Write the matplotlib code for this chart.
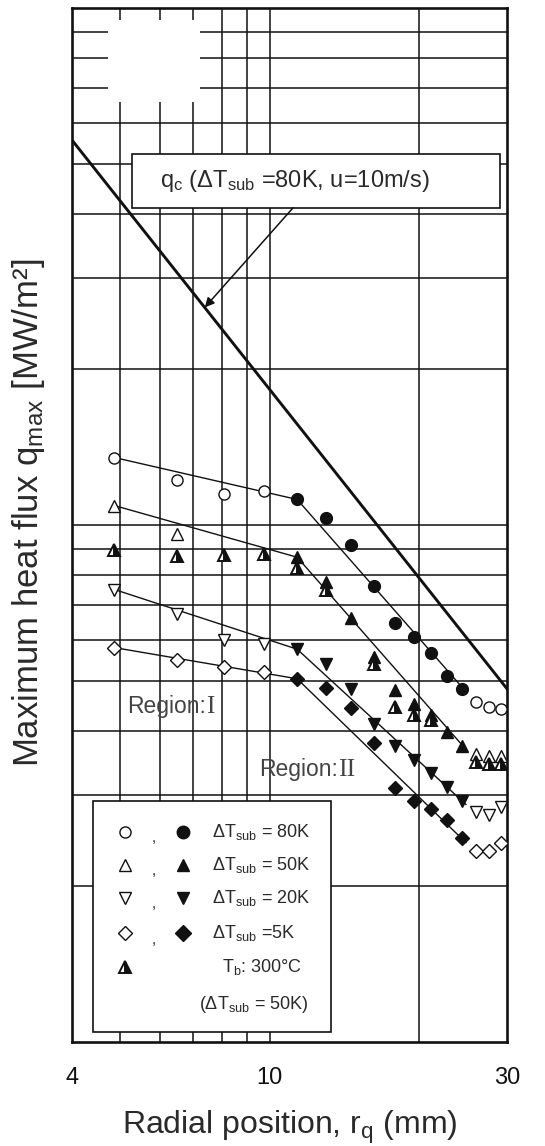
import matplotlib
matplotlib.use("Agg")
import matplotlib.pyplot as plt
from matplotlib.patches import Rectangle
from matplotlib.lines import Line2D

plt.rcParams["font.family"] = ["Liberation Sans", "DejaVu Sans"]
plt.rcParams["mathtext.fontset"] = "custom"
plt.rcParams["mathtext.rm"] = "Liberation Sans"
plt.rcParams["mathtext.it"] = "Liberation Sans:italic"
plt.rcParams["mathtext.bf"] = "Liberation Sans:bold"

# ---- data (r in mm, q in MW/m2) ----
qc_r = [4.0, 30.0]
qc_q = [55.5, 4.82]

r80_open = [4.87, 6.5, 8.1, 9.75, 26.0, 27.6, 29.2]
q80_open = [13.5, 12.2, 11.5, 11.65, 4.54, 4.44, 4.41]
r80_fill = [11.35, 12.95, 14.55, 16.2, 17.85, 19.5, 21.1, 22.75, 24.4]
q80_fill = [11.2, 10.3, 9.14, 7.61, 6.46, 6.07, 5.66, 5.10, 4.81]

r50_open = [4.87, 6.5, 26.0, 27.6, 29.2]
q50_open = [10.9, 9.6, 3.61, 3.58, 3.58]
r50_fill = [11.35, 12.95, 14.55, 16.2, 17.85, 19.5, 21.1, 22.75, 24.4]
q50_fill = [8.66, 7.75, 6.6, 5.56, 4.80, 4.50, 4.28, 3.98, 3.73]

r_tb = [4.87, 6.5, 8.1, 9.75, 11.35, 12.95, 16.2, 17.85, 19.5, 21.1, 26.0, 27.6, 29.2]
q_tb = [8.93, 8.70, 8.73, 8.77, 8.26, 7.50, 5.38, 4.44, 4.28, 4.19, 3.48, 3.45, 3.45]

r20_open = [4.87, 6.5, 8.1, 9.75, 26.0, 27.6, 29.2]
q20_open = [7.5, 6.72, 5.99, 5.88, 2.79, 2.75, 2.85]
r20_fill = [11.35, 12.95, 14.55, 16.2, 17.85, 19.5, 21.1, 22.75, 24.4]
q20_fill = [5.75, 5.38, 4.82, 4.12, 3.73, 3.51, 3.31, 3.11, 2.92]

r5_open = [4.87, 6.5, 8.1, 9.75, 26.0, 27.6, 29.2]
q5_open = [5.79, 5.48, 5.30, 5.19, 2.34, 2.34, 2.43]
r5_fill = [11.35, 12.95, 14.55, 16.2, 17.85, 19.5, 21.1, 22.75, 24.4]
q5_fill = [5.04, 4.84, 4.43, 3.78, 3.10, 2.92, 2.82, 2.69, 2.48]

# fitted lines: region I and region II for each subcooling
fit_r1 = [4.87, 11.35]
fit_r2 = [11.35, 24.8]
fit80_1 = [13.5, 11.2]
fit80_2 = [11.2, 4.76]
fit50_1 = [10.9, 8.66]
fit50_2 = [8.66, 3.68]
fit20_1 = [7.5, 5.75]
fit20_2 = [5.75, 2.88]
fit5_1 = [5.79, 5.04]
fit5_2 = [5.04, 2.43]

x_ticks = [4, 10, 30]
x_ticklabels = ["4", "10", "30"]
x_grid = [5, 6, 7, 8, 9, 10, 20]
y_grid = [2, 3, 4, 5, 6, 7, 8, 9, 10, 20, 30, 40, 50, 60, 70, 80, 90]

legend_rows = [
    ("o", r"ΔT$_{\mathrm{sub}}$ = 80K"),
    ("^", r"ΔT$_{\mathrm{sub}}$ = 50K"),
    ("v", r"ΔT$_{\mathrm{sub}}$ = 20K"),
    ("D", r"ΔT$_{\mathrm{sub}}$ =5K"),
]

INK = "#111111"
TXT = "#2a2a2a"

fig = plt.figure(figsize=(5.45, 11.46), dpi=100)
ax = fig.add_axes([0.1321, 0.0908, 0.7982, 0.9023])
ax.set_xscale("log")
ax.set_yscale("log")
ax.set_xlim(4, 30)
ax.set_ylim(1, 100)

ax.set_xticks(x_ticks)
ax.set_xticklabels(x_ticklabels)
ax.set_xticks([], minor=True)
ax.set_yticks([])
ax.set_yticks([], minor=True)
ax.tick_params(which="both", length=0, labelsize=17, pad=18, colors=INK)

for xv in x_grid:
    ax.axvline(xv, color=INK, lw=1.1, zorder=0.5)
for yv in y_grid:
    ax.axhline(yv, color=INK, lw=1.1, zorder=0.5)
for s in ax.spines.values():
    s.set_linewidth(1.9)
    s.set_color(INK)

# blanked patch in the upper left corner of the original
ax.add_patch(Rectangle((0.083, 0.909), 0.211, 0.079, transform=ax.transAxes,
                       facecolor="white", edgecolor="none", zorder=1))

# critical heat flux correlation
ax.plot(qc_r, qc_q, color=INK, lw=2.1, zorder=3)

# fitted lines
for f1, f2 in [(fit80_1, fit80_2), (fit50_1, fit50_2), (fit20_1, fit20_2), (fit5_1, fit5_2)]:
    ax.plot(fit_r1, f1, color=INK, lw=1.0, zorder=3)
    ax.plot(fit_r2, f2, color=INK, lw=1.0, zorder=3)

mk = dict(linestyle="none", mec=INK, mew=1.0, zorder=4)
ax.plot(r80_open, q80_open, marker="o", ms=8, mfc="white", **mk)
ax.plot(r80_fill, q80_fill, marker="o", ms=8.5, mfc=INK, **mk)
ax.plot(r50_open, q50_open, marker="^", ms=9, mfc="white", **mk)
ax.plot(r50_fill, q50_fill, marker="^", ms=9, mfc=INK, **mk)
ax.plot(r_tb, q_tb, marker="^", ms=8.5, fillstyle="right", mfc=INK,
        markerfacecoloralt="white", linestyle="none", mec=INK, mew=1.4, zorder=4)
ax.plot(r20_open, q20_open, marker="v", ms=9, mfc="white", **mk)
ax.plot(r20_fill, q20_fill, marker="v", ms=9, mfc=INK, **mk)
ax.plot(r5_open, q5_open, marker="D", ms=7, mfc="white", **mk)
ax.plot(r5_fill, q5_fill, marker="D", ms=7.5, mfc=INK, **mk)

# region labels
t1 = ax.text(0.126, 0.324, "Region:", transform=ax.transAxes, fontsize=16.5,
             color="#444444", va="center", ha="left")
ax.annotate("I", xy=(1, 0), xycoords=t1, va="bottom", ha="left", fontsize=18,
            family="Liberation Serif", color="#444444")
t2 = ax.text(0.430, 0.263, "Region:", transform=ax.transAxes, fontsize=16.5,
             color="#444444", va="center", ha="left")
ax.annotate("II", xy=(1, 0), xycoords=t2, va="bottom", ha="left", fontsize=18.5,
            family="Liberation Serif", color="#444444")

# q_c label box with arrow
ax.add_patch(Rectangle((0.138, 0.8066), 0.846, 0.0522, transform=ax.transAxes,
                       facecolor="white", edgecolor=INK, lw=1.2, zorder=5))
ax.text(0.513, 0.8327, r"q$_{\mathrm{c}}$ (ΔT$_{\mathrm{sub}}$ =80K, u=10m/s)",
        transform=ax.transAxes, ha="center", va="center", fontsize=17,
        color=TXT, zorder=6)
tip_r = 7.4
tip_q = 10 ** (1.744 - 1.21 * (0.8692 - 0.602))
ax.annotate("", xy=(tip_r, tip_q), xytext=(0.508, 0.8066),
            textcoords="axes fraction",
            arrowprops=dict(arrowstyle="-|>", color=INK, lw=1.1,
                            mutation_scale=14, shrinkA=0, shrinkB=0),
            zorder=6)

# legend box
ax.add_patch(Rectangle((0.048, 0.0097), 0.547, 0.2233, transform=ax.transAxes,
                       facecolor="white", edgecolor=INK, lw=1.2, zorder=5))
row_y = [0.203, 0.171, 0.139, 0.105]
for (m, label), yy in zip(legend_rows, row_y):
    ms_o = 7 if m == "D" else 8
    ax.add_line(Line2D([0.122], [yy], transform=ax.transAxes, marker=m, ms=ms_o,
                       mfc="white", mec=INK, mew=1.0, linestyle="none", zorder=6))
    ax.add_line(Line2D([0.255], [yy], transform=ax.transAxes, marker=m, ms=ms_o + 1,
                       mfc=INK, mec=INK, linestyle="none", zorder=6))
    ax.text(0.189, yy - 0.006, ",", transform=ax.transAxes, fontsize=11,
            ha="center", va="center", color=TXT, zorder=6)
    ax.text(0.322, yy, label, transform=ax.transAxes, fontsize=13,
            ha="left", va="center", color=TXT, zorder=6)
ax.add_line(Line2D([0.122], [0.072], transform=ax.transAxes, marker="^", ms=8.5,
                   fillstyle="right", mfc=INK, markerfacecoloralt="white", mec=INK,
                   mew=1.4, linestyle="none", zorder=6))
ax.text(0.345, 0.072, r"T$_{\mathrm{b}}$: 300°C", transform=ax.transAxes, fontsize=13,
        ha="left", va="center", color=TXT, zorder=6)
ax.text(0.292, 0.036, r"(ΔT$_{\mathrm{sub}}$ = 50K)", transform=ax.transAxes, fontsize=13,
        ha="left", va="center", color=TXT, zorder=6)

ax.set_xlabel(r"Radial position, r$_{\mathrm{q}}$ (mm)", fontsize=23, labelpad=14,
              color=TXT)
ax.set_ylabel(r"Maximum heat flux q$_{\mathrm{max}}$ [MW/m²]", fontsize=25, color=TXT)
ax.yaxis.set_label_coords(-0.057, 0.512)

fig.savefig("out.png", dpi=100, facecolor="white")
